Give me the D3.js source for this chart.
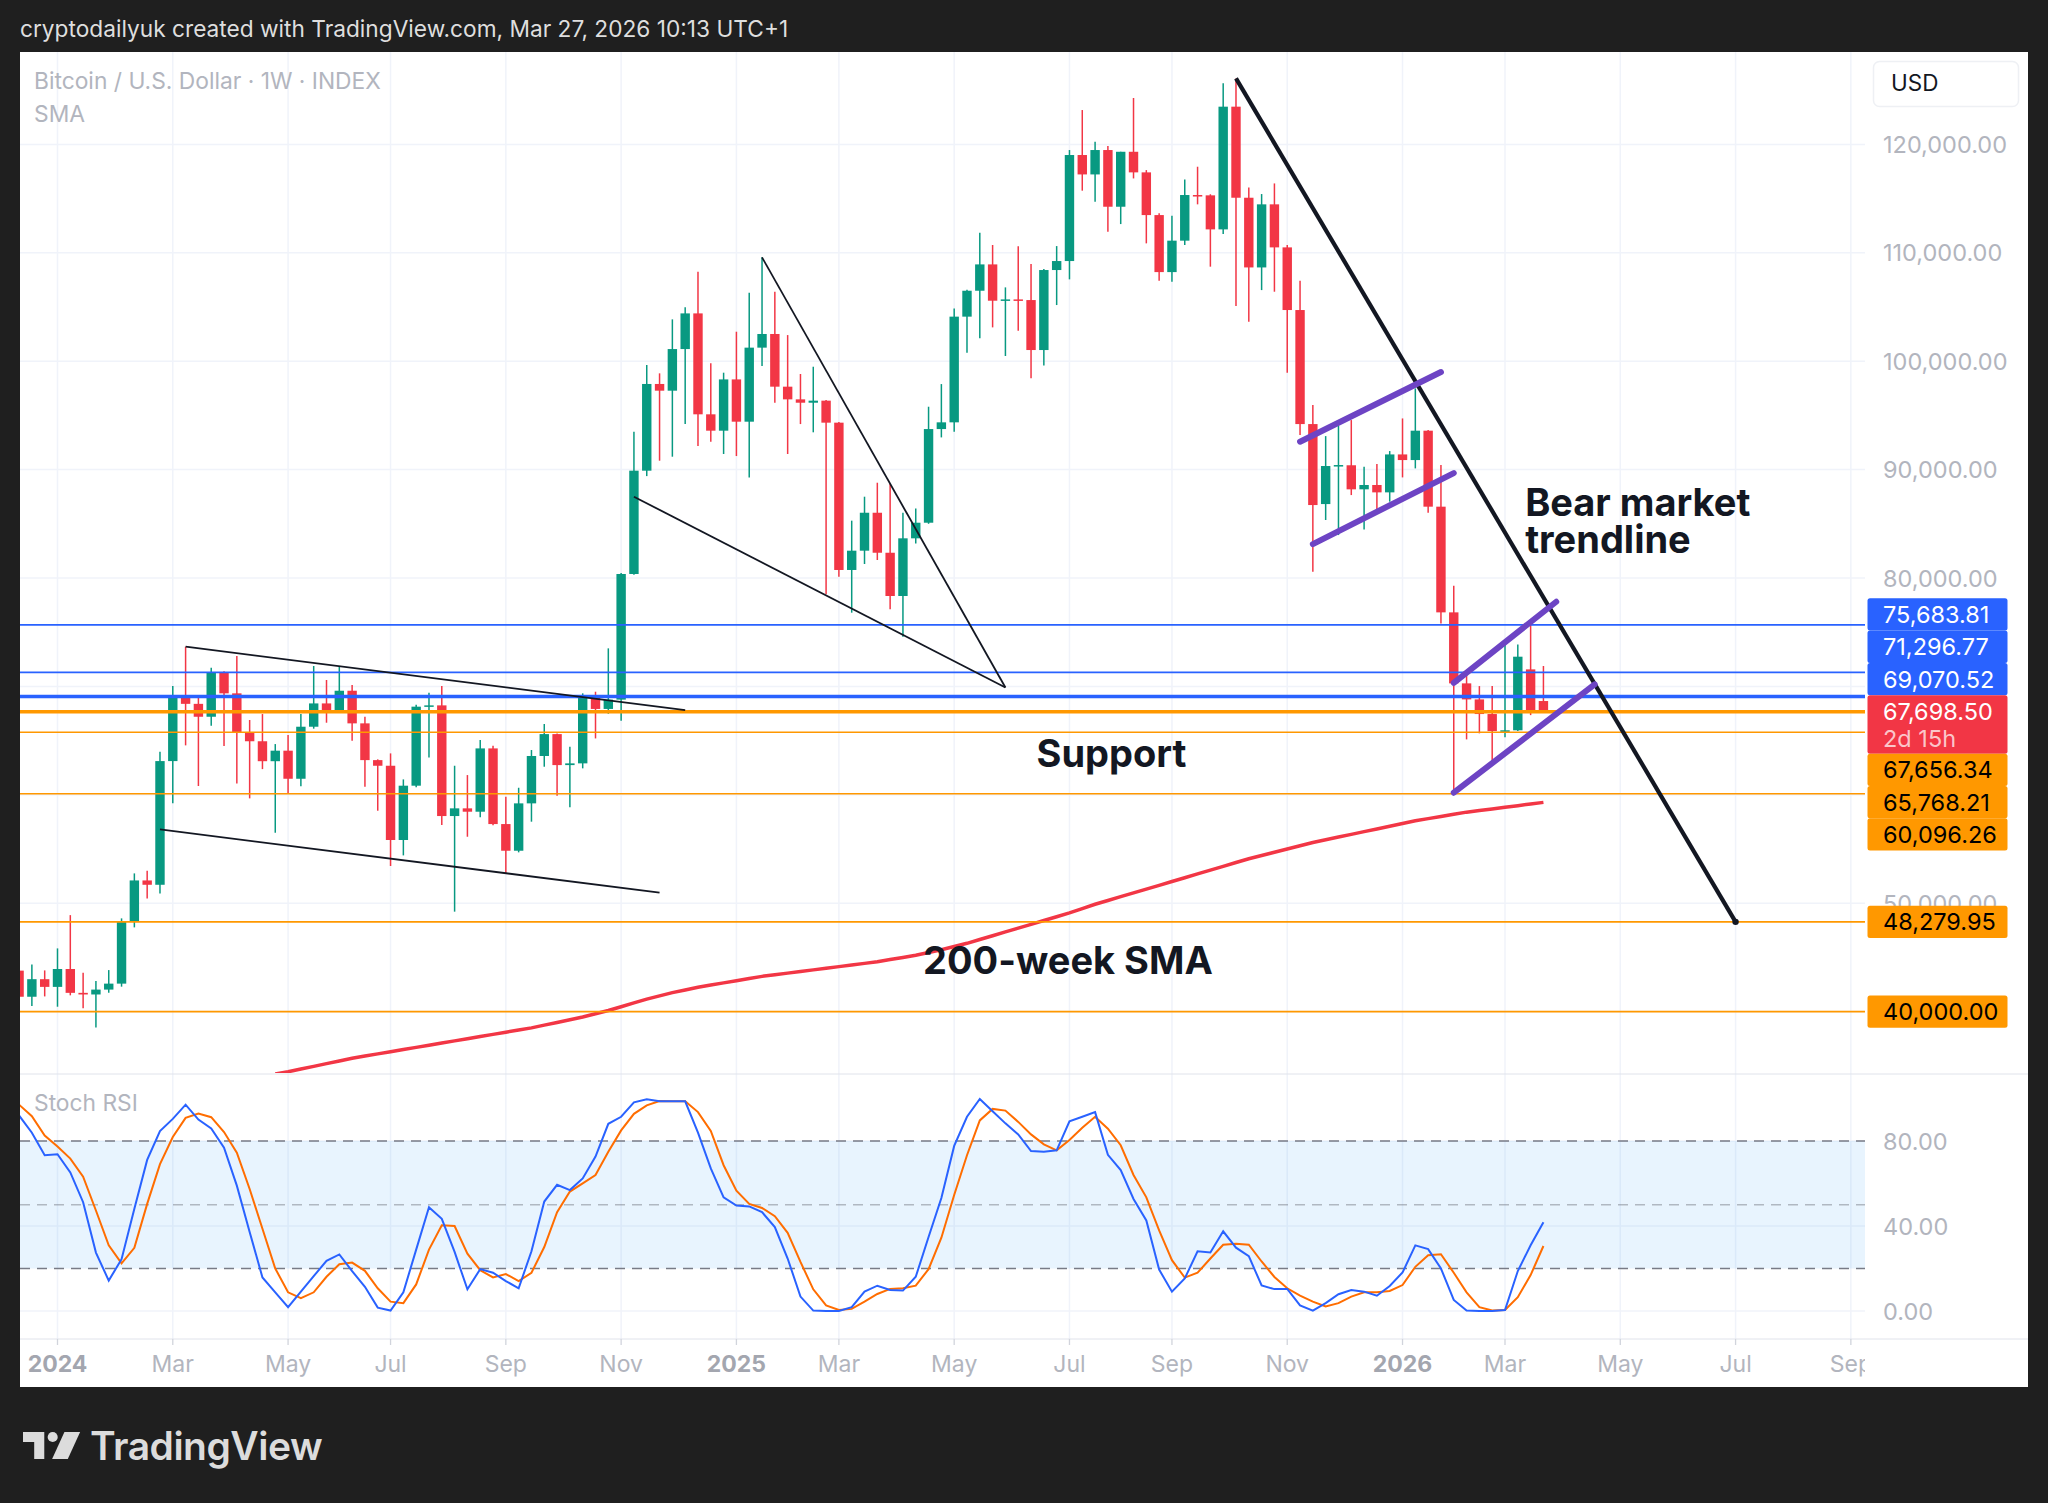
<!DOCTYPE html>
<html>
<head>
<meta charset="utf-8">
<title>BTCUSD 1W</title>
<script src="https://cdn.jsdelivr.net/npm/d3@7"></script>
<style>
  html, body { margin: 0; padding: 0; background: #1f1f1f; }
  svg { display: block; font-family: Inter, "Noto Sans", sans-serif; }
</style>
</head>
<body>
<svg id="chart" width="2048" height="1503"></svg>
<script>
// weekly bars (Monday open), 2023-12-11 .. 2026-03-23
const weeks = d3.utcMonday.range(new Date(Date.UTC(2023, 11, 11)), new Date(Date.UTC(2026, 2, 24)))

const opens = [43780, 41370, 42990, 42280, 43930, 41730, 41580, 42030, 42580, 48300,
  52100, 51700, 63110, 69000, 68390, 67200, 71280, 69360, 65700, 64940,
  63100, 64070, 61480, 66280, 68430, 67820, 69600, 66590, 63200, 62680,
  55830, 60840, 68130, 68250, 58040, 58750, 58440, 64280, 57300, 54840,
  59210, 63580, 65600, 62740, 62900, 68960, 67920, 68780, 80370, 89900,
  97900, 97280, 101120, 104410, 95100, 93590, 98320, 94420, 101250, 102510,
  97650, 96480, 96170, 96360, 94330, 80740, 82520, 86020, 82330, 78340,
  83660, 85100, 93740, 94360, 104110, 106500, 108930, 105580, 105700, 105640,
  101030, 108410, 109240, 119020, 117230, 119480, 114250, 119320, 117420, 113480,
  108220, 111120, 115330, 115300, 112160, 123480, 115080, 108650, 114470, 110500,
  104720, 94200, 86820, 90330, 90400, 88180, 88580, 87900, 91400, 90880,
  93590, 86580, 76830, 70280, 68800, 67450, 65880, 65950, 71570, 68650]

const highs = [43800, 44350, 43800, 45830, 48900, 43590, 42820, 43830, 48600, 52750,
  52990, 63970, 70030, 73660, 68990, 71720, 71400, 72800, 66900, 67450,
  64680, 65510, 67450, 71880, 70590, 71820, 70120, 67200, 63270, 63820,
  61420, 68300, 69420, 70030, 62680, 61820, 65050, 64530, 59830, 60650,
  64130, 66530, 65660, 64430, 69360, 69510, 73510, 80450, 93500, 99650,
  98880, 103860, 104970, 108260, 99800, 98940, 102720, 106320, 109580, 106410,
  102410, 98820, 99490, 96420, 94400, 85290, 87500, 88790, 88670, 86020,
  86420, 95800, 97890, 104870, 106600, 111850, 110720, 106810, 110600, 108960,
  108500, 110620, 119480, 123170, 120250, 119850, 119320, 124280, 117630, 113640,
  113420, 116770, 117940, 115400, 125630, 126090, 116030, 115420, 116400, 110720,
  107420, 95950, 93090, 94020, 94570, 90270, 90510, 91710, 94720, 97490,
  93650, 90420, 79290, 71050, 70030, 70030, 73810, 73870, 75660, 71880]

const lows = [40600, 40510, 41400, 40450, 41500, 40300, 38540, 41740, 42300, 47770,
  50440, 50900, 59210, 64560, 60810, 66370, 64500, 61050, 59670, 62370,
  56500, 60130, 60800, 66100, 66650, 67600, 64990, 60750, 58530, 53430,
  54410, 60700, 63450, 57210, 49220, 56130, 57920, 57200, 52750, 54690,
  57520, 62590, 59920, 58840, 62440, 65200, 67480, 66840, 80300, 89400,
  90820, 91190, 94200, 92170, 92570, 91440, 91250, 89280, 99560, 96170,
  91440, 94200, 93440, 78490, 80120, 76800, 81290, 81660, 77110, 74590,
  83190, 85000, 92970, 93490, 100780, 102110, 103120, 100480, 102800, 98420,
  99600, 105180, 107550, 115730, 114710, 111940, 112650, 116860, 110870, 107430,
  107330, 110720, 114470, 108720, 111730, 105090, 103640, 106560, 106410, 98940,
  93200, 80580, 85350, 83960, 87650, 84480, 86330, 87040, 89280, 90110,
  86020, 75810, 60070, 65110, 65670, 63050, 65300, 65880, 67350, 67660]

const closes = [41370, 42990, 42280, 43930, 41730, 41580, 42030, 42580, 48300, 52100,
  51700, 63110, 69000, 68390, 67200, 71280, 69360, 65700, 64940, 63100,
  64070, 61480, 66280, 68430, 67820, 69600, 66590, 63200, 62680, 55830,
  60840, 68130, 68250, 58040, 58750, 58440, 64280, 57300, 54840, 59210,
  63580, 65600, 62740, 62900, 68960, 67920, 68780, 80370, 89900, 97900,
  97280, 101120, 104410, 95100, 93590, 98320, 94420, 101250, 102510, 97650,
  96480, 96170, 96360, 94330, 80740, 82520, 86020, 82330, 78340, 83660,
  85100, 93740, 94360, 104110, 106500, 108930, 105580, 105700, 105640, 101030,
  108410, 109240, 119020, 117230, 119480, 114250, 119320, 117420, 113480, 108220,
  111120, 115330, 115300, 112160, 123480, 115080, 108650, 114470, 110500, 104720,
  94200, 86730, 90330, 90420, 88180, 88580, 87900, 91400, 90880, 93590,
  86580, 76830, 70280, 68800, 67450, 65880, 65950, 72740, 67660, 67698.5]

// Stoch RSI, one value per week
const stochK = [92, 83.9, 73.3, 73.8, 65.2, 51.2, 27.5, 14.3, 24.4, 48.1,
  71.1, 84.7, 90.4, 97.1, 90.1, 85.9, 76.9, 59.0, 37.2, 15.8,
  8.8, 1.8, 9.1, 16.4, 23.6, 26.6, 18.8, 11.4, 1.6, 0.2,
  8.8, 28.9, 48.8, 43.4, 27.8, 10.2, 19.7, 18.0, 14.1, 10.7,
  28.1, 51.5, 59.4, 56.9, 62.4, 72.7, 88.1, 91.4, 98.2, 99.6,
  98.7, 98.7, 98.7, 83.9, 67.1, 53.5, 49.6, 49.2, 46.5, 39.5,
  24.7, 6.8, 0.2, 0, 0, 1.8, 9.1, 11.9, 9.9, 9.6,
  16.1, 34.8, 53.2, 77.7, 91.4, 99.8, 94.0, 88.3, 83.1, 75.3,
  75.0, 75.6, 89.3, 91.4, 93.6, 73.5, 66.3, 52.7, 42.6, 19.5,
  9.1, 15.3, 28.1, 27.5, 37.5, 29.8, 25.8, 12.0, 10.3, 10.4,
  2.6, 0.2, 3.7, 7.9, 9.9, 9.1, 7.2, 11.8, 18.1, 30.9,
  29.1, 20.0, 5.2, 0.2, 0, 0, 0.5, 18.8, 30.9, 41.8]

const stochD = [97.1, 91.7, 82.6, 77.4, 71.7, 63.2, 47.3, 30.9, 22.4, 29.7,
  50.4, 69.1, 81.9, 90.9, 92.9, 91.2, 84.2, 74.5, 57.4, 38.7,
  20.0, 8.8, 6.0, 8.8, 16.1, 22.0, 22.8, 18.9, 10.7, 4.4,
  3.7, 12.5, 28.9, 40.3, 40.0, 27.0, 19.2, 15.8, 17.4, 14.1,
  18.0, 30.1, 46.5, 56.2, 60.1, 64.0, 74.9, 85.0, 92.8, 96.8,
  98.8, 98.7, 98.7, 93.6, 84.7, 68.6, 56.6, 50.4, 48.5, 44.6,
  36.8, 23.1, 10.2, 2.6, 0.5, 1.0, 4.4, 8.0, 10.4, 10.7,
  11.9, 19.7, 34.5, 54.6, 73.3, 89.7, 95.1, 94.3, 89.0, 83.1,
  78.4, 75.6, 80.5, 86.2, 91.4, 85.8, 78.0, 64.0, 53.5, 37.9,
  23.9, 15.7, 18.0, 24.7, 31.2, 31.7, 31.2, 23.3, 16.0, 10.7,
  7.2, 4.4, 2.1, 3.7, 6.8, 8.8, 8.8, 9.4, 12.2, 20.8,
  26.2, 26.7, 18.0, 8.8, 1.8, 0.2, 0.5, 6.5, 16.9, 30.6]

// 200-week SMA, weekly from 2024-04-29
const smaFirstIndex = 20
const sma200 = [34250, 34450, 34700, 34950, 35200, 35450, 35700, 35900, 36100, 36300,
  36500, 36700, 36900, 37100, 37300, 37500, 37700, 37900, 38100, 38300,
  38500, 38750, 39000, 39250, 39500, 39800, 40100, 40450, 40800, 41150,
  41450, 41750, 42000, 42250, 42450, 42650, 42850, 43050, 43250, 43400,
  43550, 43700, 43850, 44000, 44150, 44300, 44450, 44600, 44800, 45000,
  45200, 45450, 45700, 46000, 46300, 46650, 47000, 47350, 47700, 48050,
  48400, 48750, 49100, 49500, 49900, 50250, 50600, 50950, 51300, 51650,
  52000, 52350, 52700, 53050, 53400, 53750, 54100, 54400, 54700, 55000,
  55300, 55600, 55850, 56100, 56350, 56600, 56850, 57100, 57350, 57600,
  57800, 58000, 58200, 58400, 58550, 58700, 58850, 59000, 59150, 59300]

// horizontal levels
const blueLevels = [75683.81, 71296.77, 69070.52]
const orangeLevels = [67656.34, 65768.21, 60096.26, 48279.95, 40000.00]
const lastPrice = 67698.50
const countdown = '2d 15h'

const priceTicks = [40000, 50000, 60000, 70000, 80000, 90000, 100000, 110000, 120000]
const stochTicks = [0, 40, 80]
const stochGuides = [80, 50, 20]

// drawings, [date, price]
const thinLines = [
  [['2024-03-11', 73660], ['2024-12-09', 67820]],
  [['2024-02-26', 56810], ['2024-11-25', 50970]],
  [['2025-01-20', 109580], ['2025-06-02', 69900]],
  [['2024-11-11', 87500], ['2025-06-02', 69900]]
]
const bearTrend = [['2025-10-06', 126090], ['2026-07-06', 48280]]
const channels = [
  [['2025-11-10', 92570], ['2026-01-26', 99000]],
  [['2025-11-17', 83130], ['2026-02-02', 89680]],
  [['2026-02-02', 70330], ['2026-03-30', 77810]],
  [['2026-02-02', 60190], ['2026-04-20', 70190]]
]
const notes = [
  { text: 'Bear market', date: '2026-03-13', price: 85700 },
  { text: 'trendline', date: '2026-03-13', price: 82300 },
  { text: 'Support', date: '2025-06-19', price: 62560 },
  { text: '200-week SMA', date: '2025-04-18', price: 43460 }
]

const parse = d3.utcParse('%Y-%m-%d')
const fmt = d3.format(',.2f')

const plotLeft = 20, plotRight = 1865
const priceTop = 52, priceBottom = 1073
const stochTop = 1075, stochBottom = 1339
const axisY = 1363

const x = d3.scaleUtc()
  .domain([new Date(Date.UTC(2024, 0, 1)), new Date(Date.UTC(2026, 2, 2))])
  .range([57.5, 1505])
const y = d3.scaleLinear().domain([40000, 120000]).range([1011.6, 144.4])
const ys = d3.scaleLinear().domain([0, 100]).range([1311, 1098.5])

const colors = {
  up: '#089981', down: '#f23645', blue: '#2962ff', orange: '#ff9800',
  grid: '#f0f3fa', axisText: '#b2b5be', ink: '#131722', purple: '#6d44c4'
}

const svg = d3.select('#chart')

svg.append('rect').attr('width', 2048).attr('height', 1503).attr('fill', '#1f1f1f')
svg.append('text')
  .attr('x', 20).attr('y', 37)
  .attr('fill', '#dedede').attr('font-size', 22.7)
  .text('cryptodailyuk created with TradingView.com, Mar 27, 2026 10:13 UTC+1')

svg.append('rect')
  .attr('x', 20).attr('y', 52).attr('width', 2008).attr('height', 1335)
  .attr('fill', '#ffffff')

const defs = svg.append('defs')
defs.append('clipPath').attr('id', 'clip-price')
  .append('rect').attr('x', plotLeft).attr('y', priceTop)
  .attr('width', plotRight - plotLeft).attr('height', priceBottom - priceTop)
defs.append('clipPath').attr('id', 'clip-stoch')
  .append('rect').attr('x', plotLeft).attr('y', stochTop)
  .attr('width', plotRight - plotLeft).attr('height', stochBottom - stochTop)
defs.append('clipPath').attr('id', 'clip-axis')
  .append('rect').attr('x', plotLeft).attr('y', stochBottom)
  .attr('width', plotRight - plotLeft).attr('height', 48)

// time ticks: first weekly bar of every second month
const timeTicks = []
for (const yr of [2024, 2025, 2026]) {
  for (const m of [0, 2, 4, 6, 8, 10]) {
    timeTicks.push(d3.utcMonday.ceil(new Date(Date.UTC(yr, m, 1))))
  }
}

// grid
const grid = svg.append('g')
grid.selectAll('line.v').data(timeTicks.filter(d => x(d) < plotRight)).join('line')
  .attr('x1', d => x(d)).attr('x2', d => x(d))
  .attr('y1', priceTop).attr('y2', stochBottom)
  .attr('stroke', colors.grid).attr('stroke-width', 1.5)
grid.selectAll('line.h').data(priceTicks).join('line')
  .attr('x1', plotLeft).attr('x2', plotRight)
  .attr('y1', d => y(d)).attr('y2', d => y(d))
  .attr('stroke', colors.grid).attr('stroke-width', 1.5)
grid.selectAll('line.s').data(stochTicks).join('line')
  .attr('x1', plotLeft).attr('x2', plotRight)
  .attr('y1', d => ys(d)).attr('y2', d => ys(d))
  .attr('stroke', colors.grid).attr('stroke-width', 1.5)

// pane separator and time axis ticks
svg.append('line')
  .attr('x1', plotLeft).attr('x2', 2028).attr('y1', stochTop - 1).attr('y2', stochTop - 1)
  .attr('stroke', '#e0e3eb').attr('stroke-width', 1)
svg.append('line')
  .attr('x1', plotLeft).attr('x2', 2028).attr('y1', stochBottom).attr('y2', stochBottom)
  .attr('stroke', '#e0e3eb').attr('stroke-width', 1)
svg.append('g').selectAll('line').data(timeTicks.filter(d => x(d) < plotRight)).join('line')
  .attr('x1', d => x(d)).attr('x2', d => x(d))
  .attr('y1', stochBottom).attr('y2', stochBottom + 6)
  .attr('stroke', '#d1d4dc').attr('stroke-width', 1.3)

// stoch pane
const stochG = svg.append('g').attr('clip-path', 'url(#clip-stoch)')
stochG.append('rect')
  .attr('x', plotLeft).attr('width', plotRight - plotLeft)
  .attr('y', ys(80)).attr('height', ys(20) - ys(80))
  .attr('fill', 'rgba(33,150,243,0.1)')
stochG.selectAll('line.guide').data(stochGuides).join('line')
  .attr('x1', plotLeft).attr('x2', plotRight)
  .attr('y1', d => ys(d)).attr('y2', d => ys(d))
  .attr('stroke', d => d === 50 ? 'rgba(120,123,134,0.5)' : '#787b86')
  .attr('stroke-width', 1.6)
  .attr('stroke-dasharray', '10 7')
const stochLine = d3.line().x((d, i) => x(weeks[i])).y(d => ys(d))
stochG.append('path').datum(stochD)
  .attr('d', stochLine).attr('fill', 'none')
  .attr('stroke', '#ff6d00').attr('stroke-width', 2)
stochG.append('path').datum(stochK)
  .attr('d', stochLine).attr('fill', 'none')
  .attr('stroke', '#2962ff').attr('stroke-width', 2)

// price pane
const priceG = svg.append('g').attr('clip-path', 'url(#clip-price)')

priceG.append('path').datum(sma200)
  .attr('d', d3.line().x((d, i) => x(weeks[i + smaFirstIndex])).y(d => y(d)))
  .attr('fill', 'none').attr('stroke', colors.down).attr('stroke-width', 3.5)

const bars = priceG.append('g').selectAll('g').data(weeks).join('g')
  .attr('fill', (d, i) => closes[i] >= opens[i] ? colors.up : colors.down)
  .attr('stroke', (d, i) => closes[i] >= opens[i] ? colors.up : colors.down)
bars.append('line')
  .attr('x1', d => x(d)).attr('x2', d => x(d))
  .attr('y1', (d, i) => y(highs[i])).attr('y2', (d, i) => y(lows[i]))
  .attr('stroke-width', 1.5)
bars.append('rect')
  .attr('x', d => x(d) - 4.7).attr('width', 9.4)
  .attr('y', (d, i) => y(Math.max(opens[i], closes[i])))
  .attr('height', (d, i) => Math.max(1.5, Math.abs(y(opens[i]) - y(closes[i]))))
  .attr('stroke', 'none')

const thick = new Set([69070.52, 67656.34])
priceG.selectAll('line.blue').data(blueLevels).join('line')
  .attr('x1', plotLeft).attr('x2', plotRight)
  .attr('y1', d => y(d)).attr('y2', d => y(d))
  .attr('stroke', colors.blue).attr('stroke-width', d => thick.has(d) ? 3.4 : 1.7)
priceG.selectAll('line.orange').data(orangeLevels).join('line')
  .attr('x1', plotLeft).attr('x2', plotRight)
  .attr('y1', d => y(d)).attr('y2', d => y(d))
  .attr('stroke', colors.orange).attr('stroke-width', d => thick.has(d) ? 3.4 : 1.7)

const seg = pts => d3.line().x(p => x(parse(p[0]))).y(p => y(p[1]))(pts)
priceG.selectAll('path.thin').data(thinLines).join('path')
  .attr('d', seg).attr('fill', 'none')
  .attr('stroke', colors.ink).attr('stroke-width', 1.8)
priceG.append('path').attr('d', seg(bearTrend))
  .attr('fill', 'none').attr('stroke', colors.ink).attr('stroke-width', 4.2)
priceG.append('circle')
  .attr('cx', x(parse(bearTrend[1][0]))).attr('cy', y(bearTrend[1][1]))
  .attr('r', 3.2).attr('fill', colors.ink)
priceG.selectAll('path.ch').data(channels).join('path')
  .attr('d', seg).attr('fill', 'none')
  .attr('stroke', colors.purple).attr('stroke-width', 6).attr('stroke-linecap', 'round')

priceG.selectAll('text.note').data(notes).join('text')
  .attr('x', d => x(parse(d.date))).attr('y', d => y(d.price))
  .attr('fill', colors.ink).attr('font-size', 38).attr('font-weight', 700)
  .text(d => d.text)

// price labels, stacked around the last price label
const rowH = 32.3
const items = [
  ...blueLevels.map(v => ({ v, fill: colors.blue, color: '#ffffff', lines: [fmt(v)] })),
  { v: lastPrice, fill: colors.down, color: '#ffffff', lines: [fmt(lastPrice), countdown], anchor: true },
  ...orangeLevels.map(v => ({ v, fill: colors.orange, color: '#000000', lines: [fmt(v)] }))
].sort((a, b) => b.v - a.v)
items.forEach(d => { d.h = d.lines.length > 1 ? 58.5 : rowH })
const ai = items.findIndex(d => d.anchor)
items[ai].top = y(items[ai].v) - rowH / 2
for (let i = ai - 1; i >= 0; i--) {
  const bottom = Math.min(y(items[i].v) - rowH / 2 + items[i].h, items[i + 1].top)
  items[i].top = bottom - items[i].h
}
for (let i = ai + 1; i < items.length; i++) {
  const prev = items[i - 1]
  items[i].top = Math.max(y(items[i].v) - rowH / 2, prev.top + prev.h)
}

// price axis labels; those sitting under a price tag are not shown
const covered = v => items.some(d => d.top <= y(v) && d.top + d.h >= y(v))
svg.append('g').selectAll('text').data(priceTicks.filter(d => d > 40000 && !covered(d))).join('text')
  .attr('x', 1883).attr('y', d => y(d) + 8.5)
  .attr('fill', colors.axisText).attr('font-size', 23.5)
  .text(d => fmt(d))
svg.append('g').selectAll('text').data(stochTicks).join('text')
  .attr('x', 1883).attr('y', d => ys(d) + 8.5)
  .attr('fill', colors.axisText).attr('font-size', 23.5)
  .text(d => fmt(d))

const tags = svg.append('g').selectAll('g').data(items).join('g')
  .attr('transform', d => `translate(1867.5,${d.top})`)
tags.append('rect')
  .attr('width', 140).attr('height', d => d.h).attr('rx', 2.5)
  .attr('fill', d => d.fill)
tags.append('text')
  .attr('x', 15.5).attr('y', rowH / 2 + 8.5)
  .attr('fill', d => d.color).attr('font-size', 23.5)
  .text(d => d.lines[0])
tags.filter(d => d.lines.length > 1).append('text')
  .attr('x', 15.5).attr('y', rowH / 2 + 36)
  .attr('fill', 'rgba(255,255,255,0.72)').attr('font-size', 23.5)
  .text(d => d.lines[1])

// currency box
svg.append('rect')
  .attr('x', 1873.5).attr('y', 61.5).attr('width', 145).attr('height', 45).attr('rx', 6)
  .attr('fill', '#ffffff').attr('stroke', '#eef0f4').attr('stroke-width', 1.5)
svg.append('text')
  .attr('x', 1891).attr('y', 91).attr('fill', colors.ink).attr('font-size', 22.5)
  .text('USD')

// time axis labels
svg.append('g').attr('clip-path', 'url(#clip-axis)')
  .selectAll('text').data(timeTicks).join('text')
  .attr('x', d => x(d)).attr('y', axisY + 8.5)
  .attr('text-anchor', 'middle')
  .attr('font-size', 23)
  .attr('font-weight', d => d.getUTCMonth() === 0 ? 700 : 400)
  .attr('fill', d => d.getUTCMonth() === 0 ? '#a3a6af' : colors.axisText)
  .text(d => d.getUTCMonth() === 0 ? d3.utcFormat('%Y')(d) : d3.utcFormat('%b')(d))

// legends
svg.append('text').attr('x', 34).attr('y', 89)
  .attr('fill', colors.axisText).attr('font-size', 22.8)
  .text('Bitcoin / U.S. Dollar · 1W · INDEX')
svg.append('text').attr('x', 34).attr('y', 122)
  .attr('fill', colors.axisText).attr('font-size', 22.8)
  .text('SMA')
svg.append('text').attr('x', 34).attr('y', 1111)
  .attr('fill', colors.axisText).attr('font-size', 22.8)
  .text('Stoch RSI')

// logo
const logo = svg.append('g').attr('transform', 'translate(23,1432) scale(1.12)').attr('fill', '#dcdcdc')
logo.append('path').attr('d', 'M0 0 H19 V24 H10 V9 H0 Z')
logo.append('circle').attr('cx', 26.5).attr('cy', 4.5).attr('r', 4.5)
logo.append('path').attr('d', 'M37 0 H51 L40 24 H26 Z')
svg.append('text').attr('x', 90).attr('y', 1460)
  .attr('fill', '#dcdcdc').attr('font-size', 39).attr('font-weight', 600)
  .attr('letter-spacing', -0.5)
  .text('TradingView')
</script>
</body>
</html>
